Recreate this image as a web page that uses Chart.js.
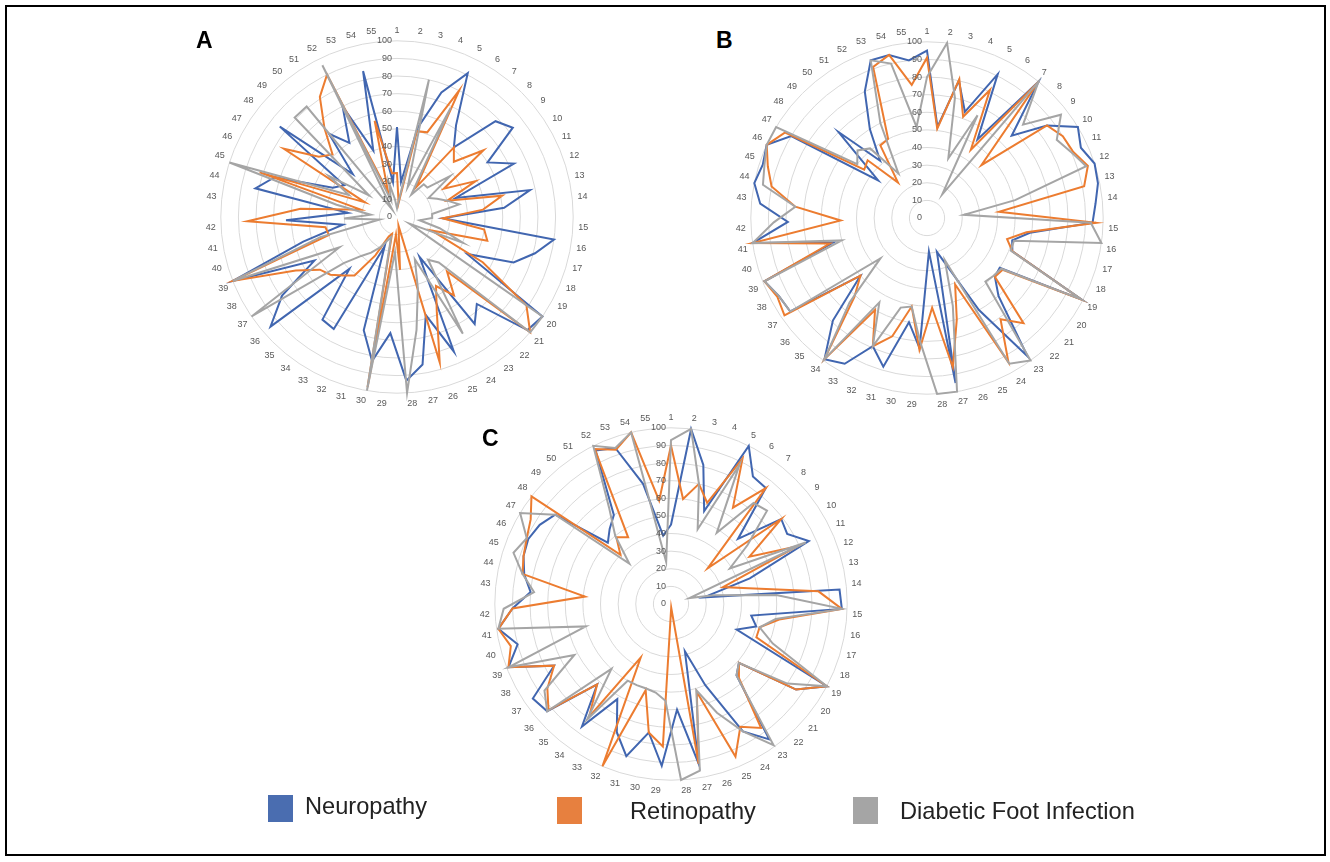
<!DOCTYPE html>
<html>
<head>
<meta charset="utf-8">
<script src="https://cdn.jsdelivr.net/npm/chart.js@4.4.1/dist/chart.umd.min.js"></script>
<style>
    body { margin: 0; background: #fff; width: 1330px; height: 862px; position: relative; overflow: hidden; font-family: "Liberation Sans", Arial, sans-serif; }
    .frame { position: absolute; left: 5px; top: 5px; width: 1317px; height: 847px; border: 2px solid #000; }
    .box { position: absolute; width: 384px; height: 384px; }
    .tag { position: absolute; font-weight: bold; font-size: 23px; color: #000; }
    .sw { position: absolute; width: 25px; height: 27px; }
    .lt { position: absolute; font-size: 23.6px; color: #222; line-height: 26px; white-space: nowrap; }
</style>
</head>
<body>
<div class="frame"></div>
<canvas id="chartA" class="box" width="384" height="384" style="left:205px;top:25px"></canvas>
<canvas id="chartB" class="box" width="384" height="384" style="left:735px;top:26px"></canvas>
<canvas id="chartC" class="box" width="384" height="384" style="left:479px;top:412px"></canvas>
<div class="tag" style="left:196px;top:27px">A</div>
<div class="tag" style="left:716px;top:27px">B</div>
<div class="tag" style="left:482px;top:425px">C</div>

<div class="sw" style="left:268px;top:795px;background:#4a6db0"></div>
<div class="lt" style="left:305px;top:793px">Neuropathy</div>
<div class="sw" style="left:557px;top:797px;background:#e7803f"></div>
<div class="lt" style="left:630px;top:798px">Retinopathy</div>
<div class="sw" style="left:853px;top:797px;background:#a5a5a5"></div>
<div class="lt" style="left:900px;top:798px">Diabetic Foot Infection</div>

<script>
// --------------------------------------------------
//  DATA
// --------------------------------------------------
const categories = ['1','2','3','4','5','6','7','8','9','10','11','12','13','14','15','16','17','18','19','20',
    '21','22','23','24','25','26','27','28','29','30','31','32','33','34','35','36','37','38','39','40',
    '41','42','43','44','45','46','47','48','49','50','51','52','53','54','55'];
const tickValues = [0, 10, 20, 30, 40, 50, 60, 70, 80, 90, 100];
const seriesNames = ['Neuropathy', 'Retinopathy', 'Diabetic Foot Infection'];

// Panel A
const neuroA = [51,20,52,75,91,62,51,78,83,60,73,35,77,61,26,90,81,71,45,100,98,67,75,26,83,58,85,93,66,83,
    67,18,73,72,40,95,79,53,100,55,31,63,28,82,73,40,35,84,35,61,50,70,40,85,20];
const retinoA = [25,8,50,51,80,20,51,45,62,31,49,30,61,49,26,50,53,21,55,89,100,42,55,45,58,86,5,30,10,98,
    10,12,25,41,45,50,53,65,100,40,41,85,55,21,82,20,75,56,51,65,81,90,15,56,25];
const footA = [5,10,80,18,69,15,24,24,38,21,25,30,36,20,20,13,25,40,8,100,100,35,30,76,26,42,65,100,20,100,
    12,15,20,25,30,40,100,37,100,45,10,30,15,35,100,30,45,20,81,81,5,96,10,20,10];

// Panel B
const neuroB = [95,52,80,64,91,53,100,67,86,100,96,100,99,96,94,59,50,52,99,50,51,60,97,60,30,20,95,19,74,60,
    88,79,95,99,79,50,94,95,99,55,100,79,95,100,98,100,90,35,70,42,60,80,95,95,90];
const retinoB = [91,51,81,61,81,46,100,43,86,90,91,96,91,41,96,57,47,52,99,52,51,81,71,94,41,60,86,51,75,51,
    70,79,60,99,61,50,98,96,99,57,100,49,75,90,95,100,94,45,47,26,49,50,91,95,76];
const footB = [80,100,70,36,65,16,100,76,96,86,90,95,51,21,93,100,51,51,99,51,50,49,100,95,26,52,100,100,70,51,
    53,79,55,99,65,35,94,95,99,50,100,87,75,95,97,100,100,50,55,51,30,60,95,90,52];

// Panel C
const neuroC = [45,100,81,56,100,86,85,53,79,77,86,47,19,96,97,46,50,40,100,86,51,55,95,83,50,28,92,60,92,74,
    90,79,62,86,62,93,95,75,99,90,99,90,80,85,88,89,87,83,50,55,60,97,94,70,39];
const retinoC = [90,60,70,61,92,65,85,29,79,52,79,31,45,84,97,62,52,52,100,86,51,57,87,80,94,52,92,2,81,74,
    51,100,35,79,62,92,85,75,99,94,99,90,49,86,88,90,93,100,40,49,45,98,93,100,59];
const footC = [93,100,70,45,88,48,74,76,55,39,84,11,25,60,97,60,52,62,100,80,51,55,99,83,67,51,96,100,55,51,
    50,50,50,81,50,93,87,62,99,50,99,95,78,86,94,90,100,83,33,50,65,100,94,100,24];

const lineColors = ['#4166b0', '#ec7c30', '#a5a5a5'];

// --------------------------------------------------
//  TICK LABELS (left of the vertical axis, like Excel)
// --------------------------------------------------
const tickText = {
    id: 'tickText',
    afterDatasetsDraw(chart) {
        const s = chart.scales.r;
        const ctx = chart.ctx;
        ctx.save();
        ctx.font = '9px "Liberation Sans", Arial, sans-serif';
        ctx.fillStyle = '#595959';
        ctx.textAlign = 'right';
        ctx.textBaseline = 'middle';
        tickValues.forEach(v => {
            const d = s.getDistanceFromCenterForValue(v);
            ctx.fillText(String(v), s.xCenter - 5, s.yCenter - d);
        });
        ctx.restore();
    }
};

function makeRadar(id, series) {
    const ctx = document.getElementById(id).getContext('2d');
    return new Chart(ctx, {
        type: 'radar',
        data: {
            labels: categories,
            datasets: series.map((vals, i) => ({
                label: seriesNames[i],
                data: vals,
                borderColor: lineColors[i],
                backgroundColor: 'rgba(0,0,0,0)',
                borderWidth: 2,
                pointRadius: 0,
                fill: false,
                tension: 0,
                order: 2 - i   // gray drawn on top
            }))
        },
        options: {
            responsive: false,
            animation: false,
            devicePixelRatio: 1,
            layout: { padding: 0 },
            plugins: { legend: { display: false }, tooltip: { enabled: false } },
            scales: {
                r: {
                    min: 0,
                    max: 100,
                    ticks: { display: false, stepSize: 10 },
                    grid: { circular: true, color: '#d9d9d9', lineWidth: 1 },
                    angleLines: { display: false },
                    pointLabels: {
                        color: '#595959',
                        padding: 5,
                        font: { size: 9, family: '"Liberation Sans", Arial, sans-serif' }
                    }
                }
            }
        },
        plugins: [tickText]
    });
}

makeRadar('chartA', [neuroA, retinoA, footA]);
makeRadar('chartB', [neuroB, retinoB, footB]);
makeRadar('chartC', [neuroC, retinoC, footC]);
</script>
</body>
</html>
